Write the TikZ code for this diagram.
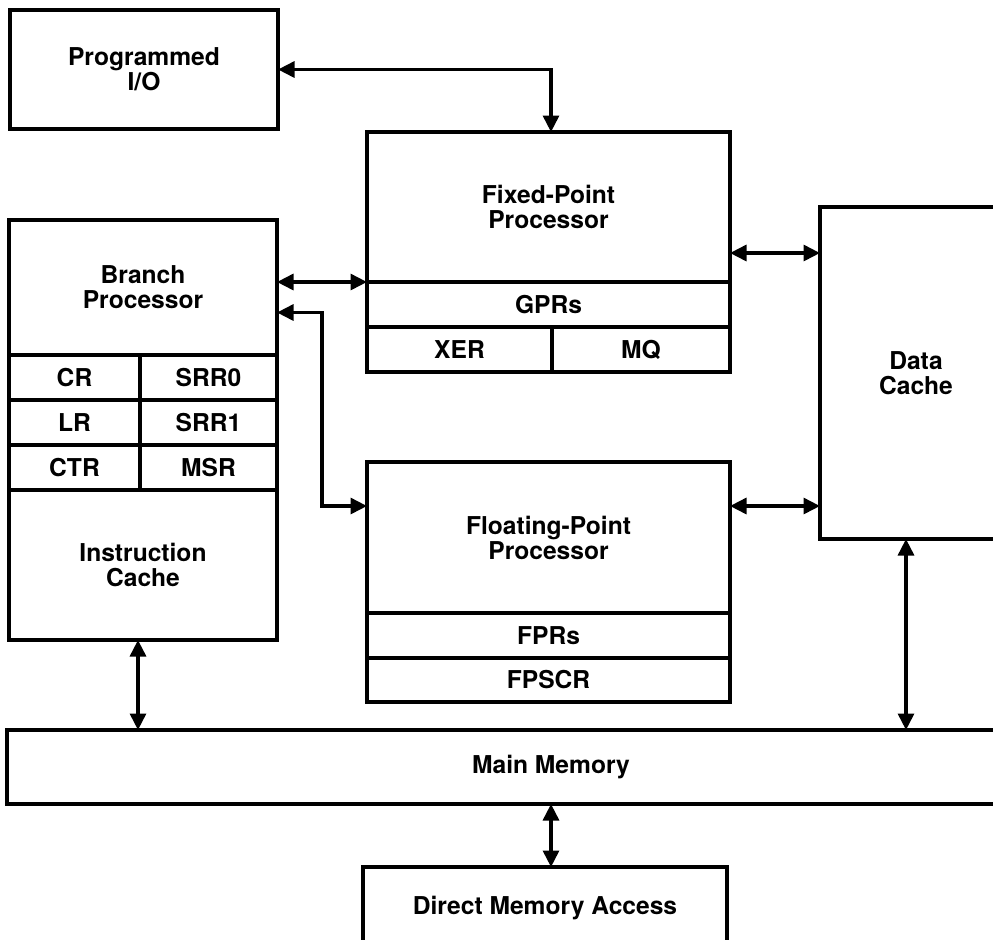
\documentclass[tikz,border=0pt]{standalone}
\usepackage{fontspec}
\setmainfont{TeX Gyre Heros}
\usetikzlibrary{arrows.meta,calc}

\begin{document}
\begin{tikzpicture}[
    blk/.style={rectangle, draw=black, line width=2pt, fill=white, outer sep=0pt, inner sep=0pt, align=center, anchor=north west, font=\bfseries\fontsize{14}{14.3}\selectfont},
    link/.style={draw=black, line width=1.8pt, {Triangle[length=3.3mm,width=3.2mm]}-{Triangle[length=3.3mm,width=3.2mm]}}
]
\useasboundingbox (0,0) rectangle (19.86,-18.78);
\clip (0,0) rectangle (19.86,-18.78);

% Nodes
\node[blk, minimum width=5.36cm, minimum height=2.38cm] (pio) at (0.2,-0.2) {Programmed\\I/O};

\node[blk, minimum width=5.36cm, minimum height=2.7cm] (bp) at (0.18,-4.4) {Branch\\Processor};
\node[blk, minimum width=2.62cm, minimum height=0.9cm] (cr) at (bp.south west) {CR};
\node[blk, minimum width=2.74cm, minimum height=0.9cm] (srr0) at (cr.north east) {SRR0};
\node[blk, minimum width=2.62cm, minimum height=0.9cm] (lr) at (cr.south west) {LR};
\node[blk, minimum width=2.74cm, minimum height=0.9cm] (srr1) at (lr.north east) {SRR1};
\node[blk, minimum width=2.62cm, minimum height=0.9cm] (ctr) at (lr.south west) {CTR};
\node[blk, minimum width=2.74cm, minimum height=0.9cm] (msr) at (ctr.north east) {MSR};
\node[blk, minimum width=5.36cm, minimum height=3cm] (icache) at (ctr.south west) {Instruction\\Cache};

\node[blk, minimum width=7.26cm, minimum height=3cm] (fxp) at (7.34,-2.64) {Fixed-Point\\Processor};
\node[blk, minimum width=7.26cm, minimum height=0.9cm] (gpr) at (fxp.south west) {GPRs};
\node[blk, minimum width=3.7cm, minimum height=0.9cm] (xer) at (gpr.south west) {XER};
\node[blk, minimum width=3.56cm, minimum height=0.9cm] (mq) at (xer.north east) {MQ};

\node[blk, minimum width=7.26cm, minimum height=3.02cm] (flp) at (7.34,-9.24) {Floating-Point\\Processor};
\node[blk, minimum width=7.26cm, minimum height=0.9cm] (fpr) at (flp.south west) {FPRs};
\node[blk, minimum width=7.26cm, minimum height=0.88cm] (fpscr) at (fpr.south west) {FPSCR};

\node[blk, minimum width=3.84cm, minimum height=6.64cm] (dc) at (16.4,-4.14) {Data\\Cache};
\node[blk, minimum width=21.76cm, minimum height=1.48cm] (mm) at (0.14,-14.6) {Main Memory};
\node[blk, minimum width=7.28cm, minimum height=1.64cm] (dma) at (7.26,-17.34) {Direct Memory Access};

% Connections
\coordinate (bend) at (6.44,-10.12);
\draw[link] (pio.east) -| ([xshift=0.05cm]fxp.north);
\draw[link] (bp.east |- gpr.north) -- (gpr.north west);
\draw[link] ([yshift=-0.5cm]bp.east) -| (bend) -- (bend -| flp.west);
\draw[link] ([yshift=-0.92cm]fxp.east) -- ([yshift=-0.92cm]fxp.east -| dc.west);
\draw[link] (bend -| flp.east) -- (bend -| dc.west);
\draw[link] ([xshift=-0.1cm]icache.south) -- ([xshift=-0.1cm]icache.south |- mm.north);
\draw[link] ([xshift=-0.2cm]dc.south) -- ([xshift=-0.2cm]dc.south |- mm.north);
\draw[link] (mm.south) -- (mm.south |- dma.north);

\end{tikzpicture}
\end{document}
